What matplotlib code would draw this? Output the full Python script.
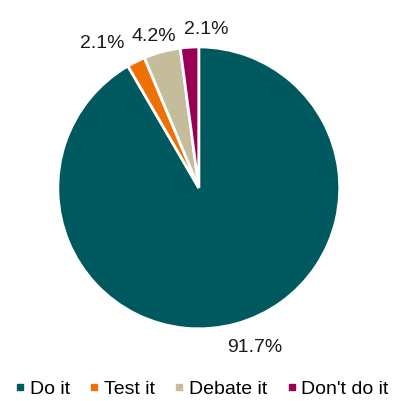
import matplotlib
matplotlib.use('Agg')
import matplotlib.pyplot as plt
import numpy as np

plt.rcParams['font.family'] = ['Liberation Sans', 'DejaVu Sans']

# Data
labels = ['Do it', 'Test it', 'Debate it', "Don't do it"]
values = [91.7, 2.1, 4.2, 2.1]
colors = ['#00595e', '#ee7203', '#c5bc9b', '#980056']

fig = plt.figure(figsize=(3.93, 4.01), dpi=100)
ax = fig.add_axes([0.147, 0.180, 0.7176, 0.703])

pct_labels = [f'{v:.1f}%' for v in values]
wedges, texts = ax.pie(
    values, colors=colors, startangle=90, counterclock=False,
    labels=pct_labels, labeldistance=1.14,
    wedgeprops=dict(edgecolor='white', linewidth=2),
    textprops=dict(fontsize=14, color='#1a1a1a'))
ax.set_aspect('equal')
ax.set_xlim(-1, 1)
ax.set_ylim(-1, 1)

# nudge small-slice labels apart like the original
shifts = [(0.1, -0.035), (-0.18, 0.0), (-0.02, -0.03), (0.13, -0.015)]
for t, (dx, dy) in zip(texts, shifts):
    x, y = t.get_position()
    t.set_position((x + dx, y + dy))
    t.set_ha('center')
    t.set_va('center')

handles = [plt.Line2D([], [], marker='s', linestyle='None', markersize=4,
                      color=c) for c in colors]
fig.legend(handles, labels, loc='center', bbox_to_anchor=(0.513, 0.03),
           ncol=4, frameon=False, fontsize=14, handletextpad=0.2,
           columnspacing=0.95, handlelength=0.6, borderpad=0.1)

fig.savefig('out.png', dpi=100)
